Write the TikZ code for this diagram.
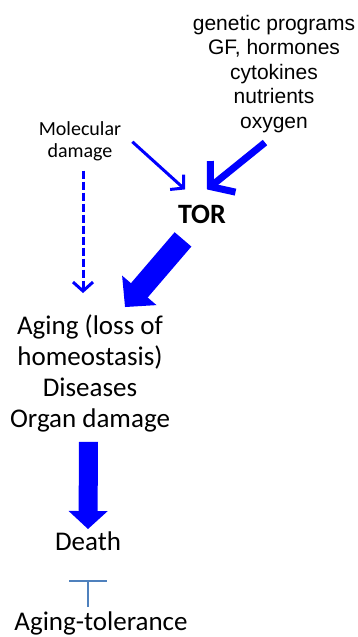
\documentclass[tikz,border=0pt]{standalone}
\usepackage{fontspec}
\setmainfont{Carlito}
\newfontfamily\arialfont{Liberation Sans}
\usetikzlibrary{arrows.meta,positioning,calc}

\begin{document}
\begin{tikzpicture}[
    x=1pt, y=-1pt,
    word/.style={inner sep=0pt, align=center, anchor=base},
    big/.style={word, font=\fontsize{27}{31}\selectfont},
    thinarrow/.style={blue, line width=3pt, -{Straight Barb[length=9pt,width=20pt]}},
    thickarrow/.style={blue, line width=7pt, -{Straight Barb[length=16pt,width=40pt]}},
    blockarrow/.style={blue, -{Triangle[length=22pt,width=44pt]}},
    stopbar/.style={color={rgb,255:red,79;green,129;blue,189}, line width=2pt, -{Bar[width=38pt]}}
]
\useasboundingbox (0,0) rectangle (357,637);

% multi-line nodes sit on the baseline of their last line
\node[word, font=\arialfont\fontsize{21}{24.5}\selectfont] (inputs) at (274,128) {genetic programs\\GF, hormones\\cytokines\\nutrients\\oxygen};
\node[word, font=\fontsize{20}{22}\selectfont] (moldmg) at (80,157) {Molecular\\damage};
\node[word, font=\bfseries\fontsize{28}{30}\selectfont] (tor) at (202,223) {TOR};
\node[big] (aging) at (90,427) {Aging (loss of\\homeostasis)\\Diseases\\Organ damage};
\node[big] (death) at (88,550) {Death};
\node[big] (tol) at (101,630) {Aging-tolerance};

\draw[thinarrow] ($(moldmg.east)+(11,1)$) -- ($(tor.north)+(-17,-15)$);
\draw[thickarrow] ($(inputs.south)+(-9,10)$) -- ($(tor.north)+(5,-15)$);
\draw[thinarrow, dash pattern=on 8pt off 3pt] ($(moldmg.south)+(3,10)$) -- ($(aging.north)+(-7,-21)$);

\draw[blockarrow, line width=22pt] ($(tor.south)+(-19,16)$) -- ($(aging.north)+(35,-7)$);
\draw[blockarrow, line width=19pt, -{Triangle[length=18pt,width=38pt]}] ($(aging.south)+(-1.5,10)$) -- ($(death.north)+(0,-2)$);
\draw[stopbar] ($(tol.north)+(-13,-4)$) -- ($(death.south)+(0,30)$);
\end{tikzpicture}
\end{document}
